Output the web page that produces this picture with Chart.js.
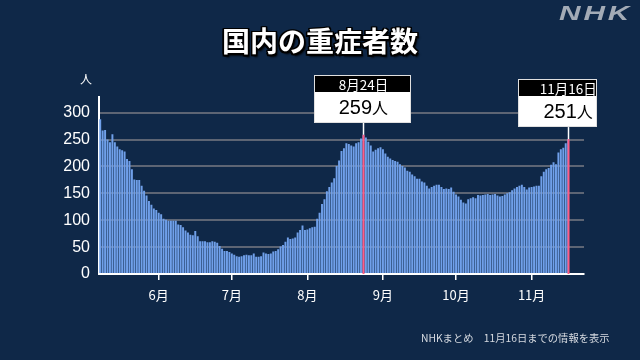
<!DOCTYPE html>
<html><head><meta charset="utf-8">
<script src="https://cdn.jsdelivr.net/npm/chart.js@4.4.1/dist/chart.umd.min.js"></script>
<style>
html,body{margin:0;padding:0;background:#0f2848;}
#wrap{position:relative;width:640px;height:360px;overflow:hidden;background:#0f2848;font-family:"Noto Sans CJK JP","Noto Sans",sans-serif;}
canvas{position:absolute;left:0;top:0;}
#title{position:absolute;left:0;top:24px;width:640px;text-align:center;color:#fff;font-size:28px;line-height:32px;font-weight:700;
 text-shadow:-1.5px -1.5px 0 #000,1.5px -1.5px 0 #000,-1.5px 1.5px 0 #000,1.5px 1.5px 0 #000,0 -1.5px 0 #000,0 1.5px 0 #000,-1.5px 0 0 #000,1.5px 0 0 #000,2px 3px 2px rgba(0,0,0,.8);}
#logo{position:absolute;left:559px;top:1px;color:#a3abb6;font-family:"Liberation Sans",Arial,sans-serif;font-size:21px;line-height:24px;font-weight:700;font-style:italic;letter-spacing:2px;transform:scaleX(1.42);transform-origin:left top;}
#foot{position:absolute;left:421px;top:331px;color:#d6dae0;font-size:10.3px;line-height:14px;white-space:nowrap;}
#unit{position:absolute;left:80px;top:72px;color:#fff;font-size:12px;line-height:14px;}
.callout{position:absolute;box-sizing:border-box;border:1px solid #e0e0e0;background:#fff;height:48px;}
.callout .hd{position:relative;background:#000;height:16px;}
.callout .bd{position:relative;background:#fff;height:30px;}
.callout .t{position:absolute;top:0;transform:translateX(-50%);white-space:nowrap;}
.callout .hd .t{color:#fff;line-height:16px;font-size:13.5px;}
.callout .bd .t{color:#000;line-height:30px;font-size:20px;font-family:"Liberation Sans",Arial,sans-serif;}
.callout .bd span{font-family:"Noto Sans CJK JP",sans-serif;font-size:16px;}
</style>
</head><body>
<div id="wrap">
<canvas id="c" width="640" height="360"></canvas>
<div id="title">国内の重症者数</div>
<div id="logo">NHK</div>
<div id="unit">人</div>
<div id="foot">NHKまとめ　11月16日までの情報を表示</div>
</div>
<script>
// daily severe cases, May 8 .. Nov 16
const values = [
288,267,268,250,245,260,245,237,232,230,228,214,210,195,176,175,175,164,155,146,
136,129,122,119,114,111,103,101,99,99,99,99,92,91,87,81,77,73,72,80,
70,61,61,61,59,59,61,60,58,52,47,43,43,41,38,36,33,32,33,35,
36,35,35,38,32,32,33,40,38,37,38,42,43,46,51,54,60,68,65,66,
68,77,82,90,82,83,85,87,88,103,114,130,139,154,162,170,178,201,211,229,
234,243,242,239,237,243,245,252,259,254,246,239,228,231,234,236,232,224,218,215,
212,210,209,204,201,198,192,190,185,182,177,177,172,170,164,159,162,164,166,166,
162,158,159,158,161,153,148,144,138,133,131,139,141,143,141,147,146,147,148,149,
147,148,149,146,144,145,148,150,152,156,159,162,164,166,162,157,161,162,163,164,
164,182,190,195,197,203,208,204,226,232,235,243,251
];
const startDate = [2020, 4, 8];      // May 8 (month 0-based)
const slotCount = 199;               // days on the axis (through Nov 22)
const monthLabels = ['6月','7月','8月','9月','10月','11月'];
const monthStartIdx = [24,54,85,116,146,177];
const yTicks = [0,50,100,150,200,250,300];
const calloutIdx = [108,192];

const labels = [];
for (let i=0;i<slotCount;i++){
  const d = new Date(startDate[0], startDate[1], startDate[2]+i);
  labels.push((d.getMonth()+1)+'月'+d.getDate()+'日');
}

const markPlugin = {
  id:'marks',
  afterDatasetsDraw(chart){
    const ctx = chart.ctx, xs = chart.scales.x, ys = chart.scales.y;
    const y0 = ys.getPixelForValue(0);
    calloutIdx.forEach(i=>{
      const x = Math.round(xs.getPixelForValue(i))+0.5;
      const yt = ys.getPixelForValue(values[i]);
      ctx.save();
      ctx.strokeStyle='#ff5c86'; ctx.lineWidth=2;
      ctx.beginPath(); ctx.moveTo(x,yt); ctx.lineTo(x,y0); ctx.stroke();
      ctx.strokeStyle='#ffffff'; ctx.lineWidth=1.5;
      ctx.beginPath(); ctx.moveTo(x,yt-12); ctx.lineTo(x,yt); ctx.stroke();
      ctx.restore();
    });
  }
};

const chart = new Chart(document.getElementById('c'), {
  type:'bar',
  data:{labels, datasets:[{data:values, backgroundColor:'#70a0ea', borderWidth:0, barPercentage:0.8, categoryPercentage:1}]},
  options:{
    responsive:false, animation:false, devicePixelRatio:1,
    layout:{padding:{top:96.6,right:56,left:0,bottom:0}},
    plugins:{legend:{display:false},tooltip:{enabled:false},title:{display:false}},
    scales:{
      x:{
        grid:{display:true,drawOnChartArea:false,drawTicks:true,tickLength:6,color:'#ffffff',lineWidth:1.5,offset:false},
        border:{display:true,color:'#ffffff',width:2},
        afterBuildTicks(ax){ ax.ticks = monthStartIdx.map(v=>({value:v})); },
        afterFit(ax){ ax.height = 86; },
        ticks:{autoSkip:false,maxRotation:0,color:'#ffffff',padding:7,
          font:{family:'"Noto Sans CJK JP", sans-serif',size:13},
          callback:(v,i)=>monthLabels[i]}
      },
      y:{
        min:0,max:330,
        grid:{color:'#5d6574',lineWidth:2,drawTicks:false},
        border:{display:true,color:'#ffffff',width:2},
        afterBuildTicks(ax){ ax.ticks = yTicks.map(v=>({value:v})); },
        afterFit(ax){ ax.width = 99; },
        ticks:{color:'#ffffff',padding:9,font:{family:'"Liberation Sans", Arial, sans-serif',size:16}}
      }
    }
  },
  plugins:[markPlugin]
});

// callout boxes
const boxExt = [[49,48],[50,29]];
const wrap = document.getElementById('wrap');
calloutIdx.forEach((i,k)=>{
  const x = chart.scales.x.getPixelForValue(i);
  const yt = chart.scales.y.getPixelForValue(values[i]);
  const [L,R] = boxExt[k];
  const el = document.createElement('div');
  el.className='callout';
  el.style.left=(x-L)+'px';
  el.style.width=(L+R)+'px';
  el.style.top=(yt-12-48)+'px';
  const c = (L-1)+'px';
  el.innerHTML='<div class="hd"><div class="t" style="left:'+c+'">'+labels[i]+'</div></div>'+
    '<div class="bd"><div class="t" style="left:'+c+'">'+values[i]+'<span>人</span></div></div>';
  wrap.appendChild(el);
});
</script>
</body></html>
